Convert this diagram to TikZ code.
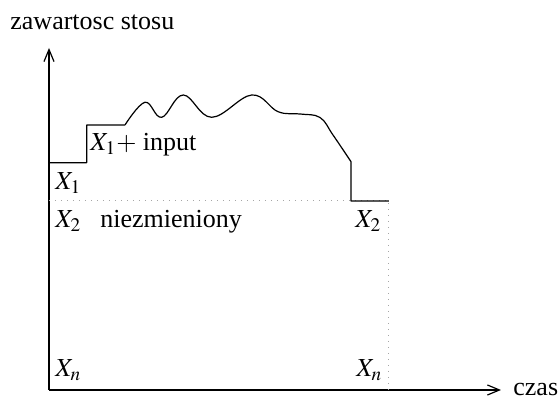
\documentclass[tikz,border=0pt]{standalone}
\usepackage{mathptmx}
\usepackage{fontspec}
\setmainfont{Liberation Serif}
\usepackage{tikz}
\usetikzlibrary{arrows.meta}

\begin{document}
\begin{tikzpicture}[x=0.5pt,y=-0.5pt,
    font=\fontsize{13}{15}\selectfont,
    lbl/.style={anchor=base west, inner sep=0pt},
    axis/.style={line width=0.6pt, -{Straight Barb[length=6pt,width=5pt]}},
    stack/.style={line width=0.6pt, line join=round},
    guide/.style={gray!70, line width=0.5pt, dash pattern=on 0.4pt off 2.6pt}]
  \useasboundingbox (0,0) rectangle (559,399);
  % Axes
  \coordinate (o) at (49,390);
  \coordinate (ytop) at (49,48);
  \coordinate (xend) at (501,390);
  \draw[axis] (o) -- (ytop);
  \draw[axis] (o) -- (xend);
  \node[lbl] (ylabel) at (10,30) {zawartosc stosu};
  \node[lbl] (xlabel) at (513,396) {czas};
  % Dotted guides
  \coordinate (g1) at (49,201);
  \coordinate (g2) at (389,201);
  \coordinate (g3) at (389,390);
  \draw[guide] (g1) -- (g2) -- (g3);
  % Stack contents
  \draw[stack] (49,162.7) -- (86.7,162.7) -- (86.7,125) -- (125,125)
    plot[smooth, tension=0.65] coordinates {(125,125) (145,102.3)
      (161.7,117.3) (183.3,95) (211.7,117.3) (251.7,95) (278,111.7)
      (300,114) (320,117.5) (333,135) (351,161.7)}
    -- (351,201) -- (389,201);
  % Labels
  \node[lbl] (x1in) at (90,151) {$X_1+$ input};
  \node[lbl] (x1) at (55,190) {$X_1$};
  \node[lbl] (x2l) at (55,228) {$X_2$};
  \node[lbl] (same) at (100,228) {niezmieniony};
  \node[lbl] (x2r) at (355,228) {$X_2$};
  \node[lbl] (xnl) at (55,377) {$X_n$};
  \node[lbl] (xnr) at (356,377) {$X_n$};
\end{tikzpicture}
\end{document}
